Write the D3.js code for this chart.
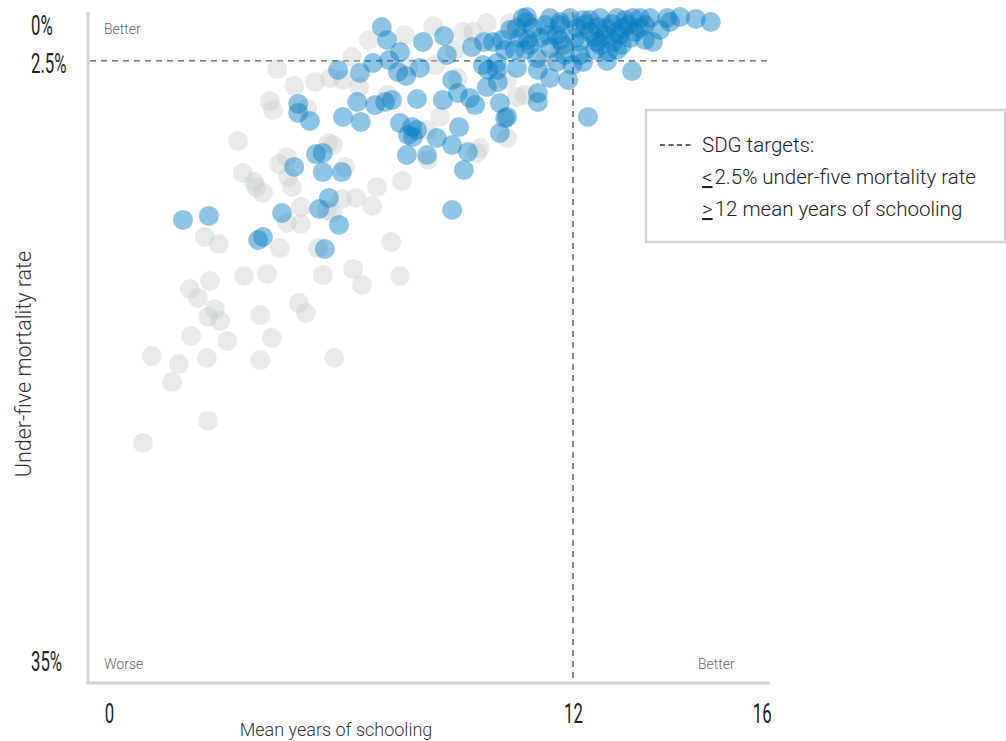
<!DOCTYPE html>
<html>
<head>
<meta charset="utf-8">
<script src="https://cdn.jsdelivr.net/npm/d3@7"></script>
<style>
  html, body { margin: 0; padding: 0; background: #fff; }
  svg { display: block; font-family: Roboto, "Noto Sans", sans-serif; }
</style>
</head>
<body>
<svg id="chart" width="1006" height="741"></svg>
<script>
// ---- Data: mean years of schooling vs under-five mortality rate (%) ----
const greySchooling = [1.36,2.97,1.58,2.25,2.08,2.94,2.55,3.44,4.26,4.55,6.09,2.72,3.14,2.97,3.27,4.26,5.22,5.39,2.52,3.02,3.86,4.43,5.81,6.56,6.78,7.72,7.50,2.89,3.24,4.75,5.69,5.27,4.92,5.27,5.91,6.04,3.83,4.11,4.33,4.16,4.73,4.92,4.95,5.05,3.71,5.94,6.36,7.15,7.77,6.28,6.63,7.03,8.41,9.62,4.68,5.10,5.62,5.99,4.50,4.58,5.42,6.06,6.95,7.84,8.54,9.28,9.53,9.87,10.44,7.92,8.59,6.31,6.71,9.15,10.37,10.61,10.81,7.42,8.71,8.39,10.37,9.70,11.93,11.68,11.31,6.53,9.08];
const greyMortality = [22.46,21.31,17.92,18.34,19.28,18.02,16.87,17.13,18.13,16.98,18.02,14.89,15.46,15.88,16.09,15.78,15.15,15.67,14.42,14.00,13.74,13.63,13.69,13.37,14.21,13.74,11.96,11.70,12.07,12.28,12.28,10.13,10.97,11.02,10.29,10.45,8.36,8.83,9.40,9.09,7.89,7.52,8.57,9.09,6.69,6.79,8.04,9.09,8.78,9.72,9.66,10.08,7.68,7.31,2.93,3.81,3.60,3.40,4.60,5.07,4.96,6.90,1.41,1.15,0.68,0.99,0.99,0.52,0.52,2.82,2.72,3.50,3.87,3.40,3.50,4.39,4.28,4.28,5.43,6.11,6.53,7.05,0.47,1.93,2.46,2.30,1.93];

const blueSchooling = [2.35,2.99,4.21,4.33,4.80,5.72,5.96,5.86,6.21,5.10,5.64,5.81,5.81,6.28,5.20,5.20,5.49,6.19,6.73,6.31,6.75,6.66,7.10,7.35,7.52,7.05,7.45,7.72,7.27,7.40,7.67,7.87,8.21,8.29,8.81,8.88,8.14,8.78,7.72,8.02,8.14,7.92,8.04,8.63,9.01,9.40,7.89,8.39,9.30,9.01,9.18,9.01,9.15,9.45,9.58,9.87,10.14,10.19,10.32,10.37,10.19,9.77,10.12,9.90,10.12,10.61,9.50,9.80,10.02,10.24,10.61,10.76,10.69,
  11.43,11.93,12.25,12.67,13.09,13.48,13.91,14.33,14.65,15.04,15.41,12.10,12.42,12.84,13.24,13.66,14.15,14.40,11.01,11.18,11.60,11.75,12.17,12.59,12.99,13.41,13.78,13.98,10.94,11.43,12.17,12.87,13.09,11.11,11.60,11.98,12.25,12.84,11.13,11.43,11.88,13.46,11.13,11.13,12.37,
  10.44,10.86,11.31,11.68,12.42,12.79,13.29,13.66,12.54,11.80,10.81,10.56,13.16,
  12.30,12.62,12.96,13.36,13.78,12.54,13.04,13.53,12.05,12.67,13.21,11.68,11.38,10.89,10.32,10.86,11.68];
const blueMortality = [10.81,10.60,11.86,11.70,10.45,10.24,9.66,12.33,11.07,8.04,7.37,7.31,8.31,8.31,4.75,5.22,5.64,2.98,3.13,5.43,5.69,4.65,4.81,4.65,4.54,2.61,2.46,2.04,0.73,1.41,3.08,3.29,2.87,1.51,1.20,2.19,4.49,4.54,5.75,5.96,6.11,6.37,6.48,6.53,6.90,7.26,7.42,7.42,8.20,10.29,5.96,3.50,4.18,4.44,4.81,3.87,3.60,4.70,5.49,5.43,6.27,2.72,2.61,2.98,2.98,2.87,1.78,1.51,1.51,1.41,0.78,0.26,1.31,
  0.26,0.26,0.37,0.26,0.26,0.26,0.26,0.26,0.21,0.31,0.47,0.78,0.99,0.78,0.78,0.78,0.89,0.47,0.78,1.31,1.15,1.67,1.51,1.51,1.51,1.31,1.41,1.51,1.67,1.83,2.19,2.04,1.93,2.35,2.56,2.72,2.56,2.51,2.98,3.40,3.50,3.03,4.18,4.65,5.43,
  0.89,0.47,0.63,0.63,0.37,1.15,0.37,0.26,1.93,2.19,1.93,1.93,1.15,
  0.63,0.73,0.57,0.63,0.63,1.25,1.04,0.99,1.31,1.67,1.67,1.41,1.15,1.41,1.93,0.21,0.47];

// Targets and tick labels
const targetSchooling = 12;
const targetMortality = 2.5;
const xTicks = [0, 12, 16];
const yTicks = [0, 2.5, 35];
const legendLines = ["SDG targets:", "2.5% under-five mortality rate", "12 mean years of schooling"];
const legendSymbols = ["", "<", ">"];

// ---- Layout ----
const svg = d3.select("#chart");
const plotLeft = 88, plotRight = 770, plotTop = 12, plotBottom = 683;

const x = d3.scaleLinear().domain([0, 12]).range([88, 573]);
const y = d3.scaleLinear().domain([0, 35]).range([13, 683]);

const greyData = greySchooling.map((v, i) => ({ x: v, y: greyMortality[i] }));
const blueData = blueSchooling.map((v, i) => ({ x: v, y: blueMortality[i] }));

// Axis lines
svg.append("line").attr("x1", plotLeft).attr("x2", plotLeft).attr("y1", plotTop).attr("y2", plotBottom + 1.5)
  .attr("stroke", "#d4d4d4").attr("stroke-width", 3);
svg.append("line").attr("x1", plotLeft - 1.5).attr("x2", plotRight).attr("y1", plotBottom).attr("y2", plotBottom)
  .attr("stroke", "#d4d4d4").attr("stroke-width", 3);

// Target lines (behind the dots)
svg.append("line").attr("x1", plotLeft + 2).attr("x2", plotRight).attr("y1", y(targetMortality)).attr("y2", y(targetMortality))
  .attr("stroke", "#555").attr("stroke-width", 1.4).attr("stroke-dasharray", "6,5");
svg.append("line").attr("x1", x(targetSchooling)).attr("x2", x(targetSchooling)).attr("y1", plotTop).attr("y2", plotBottom)
  .attr("stroke", "#555").attr("stroke-width", 1.4).attr("stroke-dasharray", "6,5");

// Dots
const r = 10;
svg.append("g").selectAll("circle").data(greyData).join("circle")
  .attr("cx", d => x(d.x)).attr("cy", d => y(d.y)).attr("r", r)
  .attr("fill", "#c3c7c7").attr("fill-opacity", 0.38);
svg.append("g").selectAll("circle").data(blueData).join("circle")
  .attr("cx", d => x(d.x)).attr("cy", d => y(d.y)).attr("r", r)
  .attr("fill", "#007cc1").attr("fill-opacity", 0.44);

// Y axis tick labels (condensed look)
const condensed = 0.62;
const yAxis = d3.axisLeft(y).tickValues(yTicks).tickFormat(d => d + "%").tickSize(0);
const gy = svg.append("g").call(yAxis);
gy.select(".domain").remove();
const yOffsets = { 0: 21, 2.5: 12, 35: -13 };
gy.selectAll("text")
  .attr("x", null).attr("dy", null).attr("y", null)
  .attr("text-anchor", "start")
  .attr("font-family", "Roboto, sans-serif").attr("font-weight", 400)
  .attr("font-size", 27).attr("fill", "#222")
  .attr("transform", d => `translate(31,${yOffsets[d]}) scale(${condensed},1)`);

// X axis tick labels
const xAxis = d3.axisBottom(x).tickValues(xTicks).tickFormat(d => d).tickSize(0);
const gx = svg.append("g").call(xAxis);
gx.select(".domain").remove();
const xOffsets = { 0: 21, 12: 0, 16: 27 };
gx.selectAll("text")
  .attr("x", null).attr("dy", null).attr("y", null)
  .attr("text-anchor", "middle")
  .attr("font-family", "Roboto, sans-serif").attr("font-weight", 400)
  .attr("font-size", 27).attr("fill", "#222")
  .attr("transform", d => `translate(${xOffsets[d]},723) scale(${condensed},1)`);

// Corner annotations
const note = (t, xx, yy) => svg.append("text").attr("x", xx).attr("y", yy).text(t)
  .attr("font-size", 14).attr("font-weight", 300).attr("fill", "#666");
note("Better", 104, 34);
note("Worse", 104, 669);
note("Better", 698, 669);

// Axis titles
svg.append("text").attr("x", 336).attr("y", 736).attr("text-anchor", "middle")
  .attr("font-size", 18).attr("font-weight", 300).attr("fill", "#333").text("Mean years of schooling");
svg.append("text").attr("transform", "translate(31,364) rotate(-90)").attr("text-anchor", "middle")
  .attr("font-size", 21.5).attr("font-weight", 300).attr("fill", "#333").text("Under-five mortality rate");

// Legend
svg.append("rect").attr("x", 646).attr("y", 110).attr("width", 359).attr("height", 132)
  .attr("fill", "#fff").attr("stroke", "#d4d4d4").attr("stroke-width", 2.5);
svg.append("line").attr("x1", 660).attr("x2", 691).attr("y1", 145).attr("y2", 145)
  .attr("stroke", "#333").attr("stroke-width", 1.3).attr("stroke-dasharray", "5,3.5");
legendLines.forEach((t, i) => {
  const tx = svg.append("text").attr("x", 702).attr("y", 152 + i * 32)
    .attr("font-size", 20.5).attr("font-weight", 300).attr("fill", "#222");
  if (legendSymbols[i]) {
    tx.append("tspan").attr("text-decoration", "underline").text(legendSymbols[i]);
    tx.append("tspan").attr("dx", 2).text(t);
  } else {
    tx.text(t);
  }
});
</script>
</body>
</html>
